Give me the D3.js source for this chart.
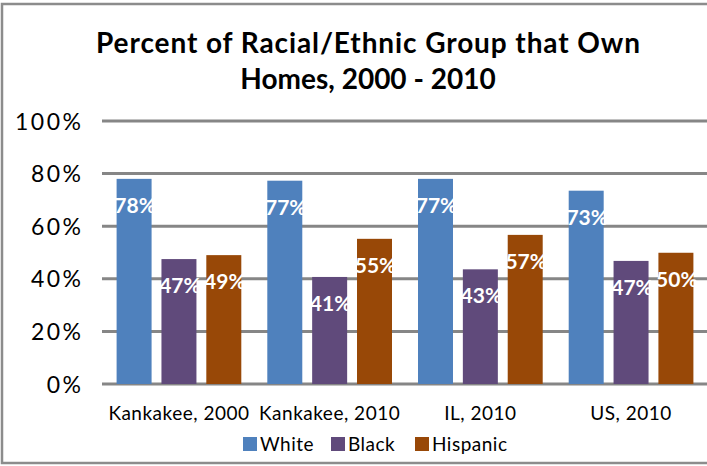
<!DOCTYPE html>
<html>
<head>
<meta charset="utf-8">
<script src="https://cdn.jsdelivr.net/npm/d3@7"></script>
<style>
  html, body { margin: 0; padding: 0; background: #fff; }
  svg { display: block; }
  text { font-family: Lato, "Open Sans", sans-serif; }
</style>
</head>
<body>
<svg id="chart" width="707" height="466"></svg>
<script>
const categories = ["Kankakee, 2000", "Kankakee, 2010", "IL, 2010", "US, 2010"];
const seriesNames = ["White", "Black", "Hispanic"];
const white = [78, 77.3, 78, 73.5];
const black = [47.5, 40.7, 43.6, 46.8];
const hispanic = [49, 55.2, 56.7, 49.9];
const whiteLabels = ["78%", "77%", "77%", "73%"];
const blackLabels = ["47%", "41%", "43%", "47%"];
const hispanicLabels = ["49%", "55%", "57%", "50%"];
const yTicks = [0, 20, 40, 60, 80, 100];
const colors = ["#4F81BD", "#604A7B", "#984807"];

const seriesValues = [white, black, hispanic];
const seriesLabels = [whiteLabels, blackLabels, hispanicLabels];

const svg = d3.select("#chart");

// outer border
svg.append("rect")
  .attr("x", 2).attr("y", 4).attr("width", 730).attr("height", 459)
  .attr("fill", "#fff").attr("stroke", "#8c8c8c").attr("stroke-width", 2.5);

// title
const title = svg.append("text")
  .attr("text-anchor", "middle")
  .attr("font-weight", "bold")
  .attr("font-size", 28)
  .attr("fill", "#000");
title.append("tspan").attr("x", 368).attr("y", 53)
  .attr("textLength", 544).attr("lengthAdjust", "spacing")
  .text("Percent of Racial/Ethnic Group that Own");
title.append("tspan").attr("x", 368).attr("y", 89).text("Homes, 2000 - 2010");

const plotLeft = 103.6, plotRight = 706.4, plotTop = 121, plotBottom = 384;

const x0 = d3.scaleBand().domain(categories).range([plotLeft, plotRight]).paddingInner(0).paddingOuter(0);
const x1 = d3.scaleBand().domain(seriesNames).range([13, x0.bandwidth() - 13]).paddingInner(0.22).paddingOuter(0);
const y = d3.scaleLinear().domain([0, 100]).range([plotBottom, plotTop]);

// gridlines
svg.append("g").selectAll("line").data(yTicks).join("line")
  .attr("x1", 102).attr("x2", 707)
  .attr("y1", d => y(d)).attr("y2", d => y(d))
  .attr("stroke", "#868686").attr("stroke-width", 3);

// y tick labels
svg.append("g").selectAll("text").data(yTicks).join("text")
  .attr("x", 83.5).attr("y", d => y(d) + 8.5)
  .attr("text-anchor", "end")
  .attr("font-size", 23)
  .attr("letter-spacing", 2.5)
  .attr("fill", "#000")
  .text(d => d + "%");

// bars
seriesNames.forEach((s, si) => {
  const g = svg.append("g");
  g.selectAll("rect").data(categories).join("rect")
    .attr("x", c => x0(c) + x1(s))
    .attr("width", x1.bandwidth())
    .attr("y", (c, ci) => y(seriesValues[si][ci]))
    .attr("height", (c, ci) => plotBottom - y(seriesValues[si][ci]))
    .attr("fill", colors[si]);
  g.selectAll("text").data(categories).join("text")
    .attr("x", c => x0(c) + x1(s) + x1.bandwidth() / 2 + 1)
    .attr("y", (c, ci) => y(seriesValues[si][ci]) + 34)
    .attr("text-anchor", "middle")
    .attr("font-size", 21)
    .attr("font-weight", "bold")
    .attr("fill", "#fff")
    .text((c, ci) => seriesLabels[si][ci]);
});

// category labels
svg.append("g").selectAll("text").data(categories).join("text")
  .attr("x", c => x0(c) + x0.bandwidth() / 2)
  .attr("y", 420)
  .attr("text-anchor", "middle")
  .attr("font-size", 19)
  .attr("letter-spacing", 0.5)
  .attr("fill", "#000")
  .text(c => c);

// legend
const legendX = [243, 331, 415];
const lg = svg.append("g").selectAll("g").data(seriesNames).join("g")
  .attr("transform", (d, i) => `translate(${legendX[i]},437)`);
lg.append("rect").attr("width", 14).attr("height", 14).attr("fill", (d, i) => colors[i]);
lg.append("text").attr("x", 17).attr("y", 14)
  .attr("font-size", 19).attr("letter-spacing", 0.5).attr("fill", "#000")
  .text(d => d);
</script>
</body>
</html>
